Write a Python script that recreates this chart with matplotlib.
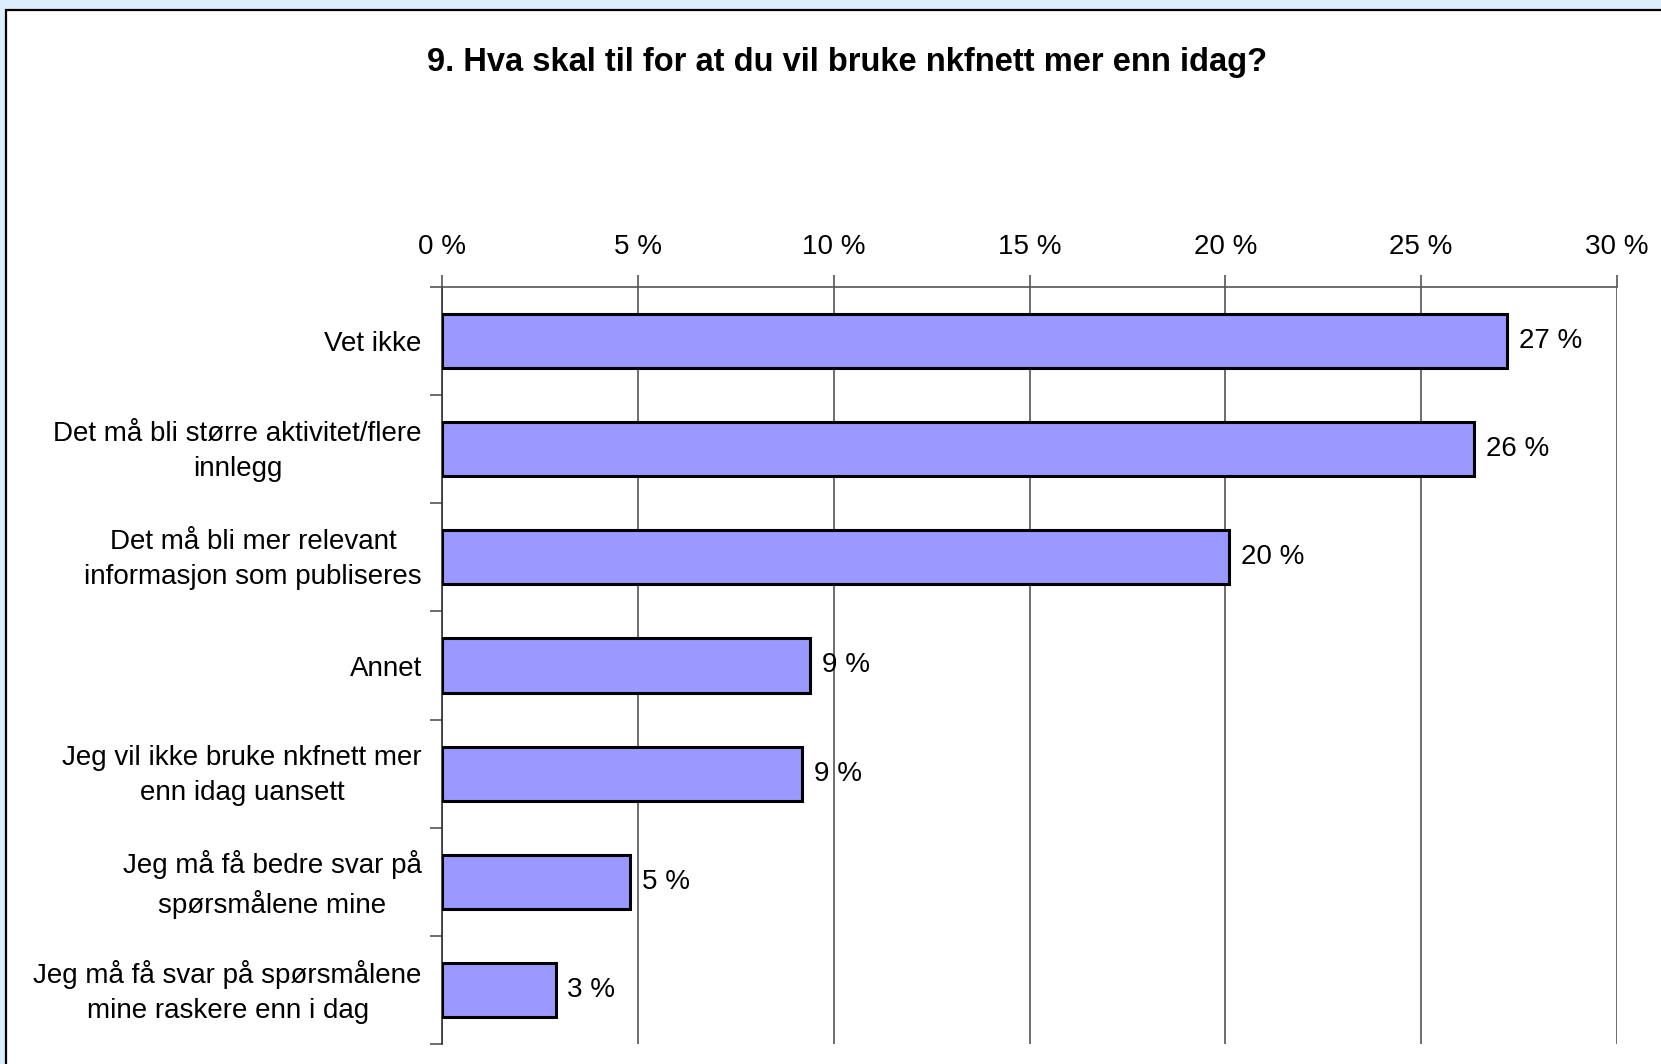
import matplotlib
matplotlib.use("Agg")
import matplotlib.pyplot as plt
from matplotlib.patches import Rectangle
from matplotlib.transforms import ScaledTranslation
import numpy as np

plt.rcParams['font.family'] = ['Liberation Sans', 'DejaVu Sans']

title = "9. Hva skal til for at du vil bruke nkfnett mer enn idag?"
categories = [
    "Vet ikke",
    "Det må bli større aktivitet/flere\ninnlegg",
    "Det må bli mer relevant\ninformasjon som publiseres",
    "Annet",
    "Jeg vil ikke bruke nkfnett mer\nenn idag uansett",
    "Jeg må få bedre svar på\nspørsmålene mine",
    "Jeg må få svar på spørsmålene\nmine raskere enn i dag",
]
values = [27.2, 26.35, 20.1, 9.4, 9.2, 4.8, 2.9]
labels = ["27 %", "26 %", "20 %", "9 %", "9 %", "5 %", "3 %"]
x_ticks = [0, 5, 10, 15, 20, 25, 30]

W, H = 1661, 1064
fig = plt.figure(figsize=(W / 100, H / 100), dpi=100)
fig.patch.set_facecolor('#dcedfc')

# white panel with black border on top/left
panel = Rectangle((6 / W, -0.1), 1.2, 1 - 10 / H + 0.1, transform=fig.transFigure,
                  facecolor='white', edgecolor='black', linewidth=1.6, zorder=-10)
fig.patches.append(panel)

fig.text(847 / W, 1 - 63 / H, title, ha='center', va='center',
         fontsize=23.5, fontweight='bold')

ax = fig.add_axes([442 / W, 1 - 1044 / H, (1617 - 442) / W, (1044 - 287) / H])
ax.set_facecolor('none')

fs = 20
pos = np.arange(len(categories)) + 0.5
ax.barh(pos, values, height=0.5, color='#9999ff', edgecolor='black',
        linewidth=2.2, zorder=3)
for p, v, lab in zip(pos, values, labels):
    ax.text(v + 0.3, p, lab, va='center', ha='left', fontsize=fs, zorder=4)

ax.set_xlim(0, 30)
ax.set_ylim(len(categories), 0)

ax.xaxis.tick_top()
ax.set_xticks(x_ticks)
ax.set_xticklabels([f"{t} %" for t in x_ticks], fontsize=fs)
ax.tick_params(axis='x', length=9, width=1.2, color='#555555', pad=10.5)

ax.set_yticks(np.arange(len(categories) + 1))
ax.set_yticklabels([])
ax.set_yticks(pos, minor=True)
ax.set_yticklabels(categories, minor=True, fontsize=fs, ha='right',
                   multialignment='center', linespacing=1.45)
ax.tick_params(axis='y', which='major', length=9, width=1.2, color='#555555')
ax.tick_params(axis='y', which='minor', length=0, pad=14.5)

# two-line labels sit a little high in the original
nudge = ScaledTranslation(0, 5.5 / 100, fig.dpi_scale_trans)
for t in ax.yaxis.get_minorticklabels():
    if "\n" in t.get_text():
        t.set_transform(t.get_transform() + nudge)

ax.grid(axis='x', color='#555555', linewidth=1.2, zorder=1)
ax.set_axisbelow(True)
for side in ['right', 'bottom']:
    ax.spines[side].set_visible(False)
ax.spines['top'].set_color('#555555')
ax.spines['top'].set_linewidth(1.2)
ax.spines['left'].set_color('#333333')
ax.spines['left'].set_linewidth(1.2)

fig.savefig("out.png", dpi=100, facecolor=fig.get_facecolor())
